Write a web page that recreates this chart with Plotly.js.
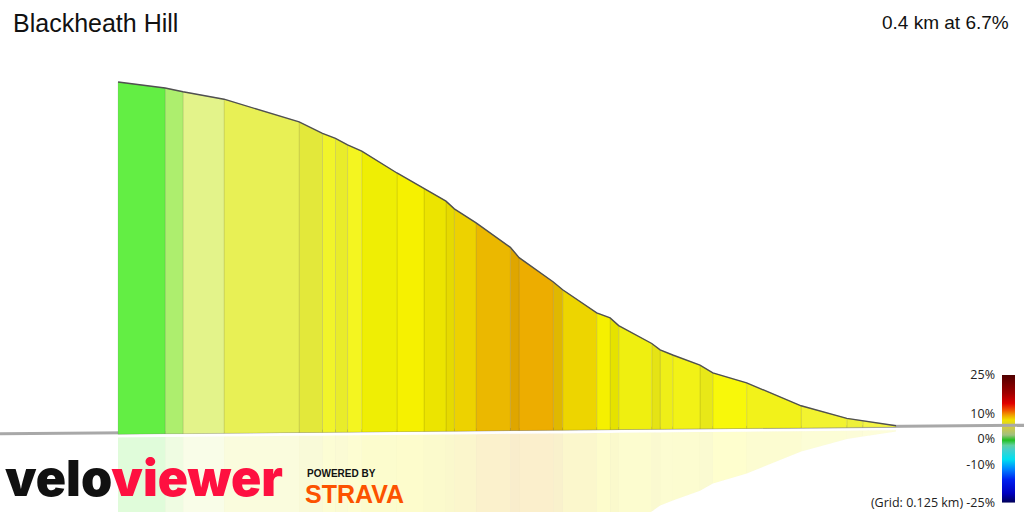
<!DOCTYPE html>
<html>
<head>
<meta charset="utf-8">
<script src="https://cdn.plot.ly/plotly-3.0.1.min.js"></script>
<style>html,body{margin:0;padding:0;background:#fff;}#chart{width:1024px;height:512px;}</style>
</head>
<body>
<div id="chart"></div>
<script>
// ---- data (distance from the bottom of the climb, km; elevation, m) ----
const distKm = [0, 0.0171, 0.0253, 0.0488, 0.0768, 0.0942, 0.1008, 0.1148, 0.1213, 0.1256, 0.1426, 0.1470, 0.1539, 0.1714, 0.1762, 0.1938, 0.1983, 0.2159, 0.2271, 0.2314, 0.2427, 0.2566, 0.2747, 0.2820, 0.2882, 0.2949, 0.3069, 0.3455, 0.3666, 0.3758, 0.4];
const elevM = [10.1, 10.5, 10.7, 11.7, 13.5, 14.3, 14.9, 15.7, 16.1, 16.6, 18.0, 18.6, 19.0, 20.8, 21.4, 23.3, 24.1, 26.0, 27.1, 27.7, 28.7, 29.9, 31.6, 32.1, 32.6, 33.0, 33.9, 35.7, 36.3, 36.6, 37.1];
const segColors = ['#F4F446', '#EEF03A', '#F2F330', '#F2F21A', '#F8F80A', '#E8E818', '#F2F216', '#EEEE18', '#E5E315', '#EFEF10', '#E5E200', '#F5F000', '#EDD500', '#E0B800', '#EDAD00', '#DFA600', '#EBB800', '#EDD200', '#E6DA00', '#ECE400', '#F6F100', '#EFEE04', '#F4F520', '#E9EC2A', '#F1F42A', '#E3E83A', '#E8F055', '#E3F38A', '#ADEE6E', '#63EE44'];
const titleText = 'Blackheath Hill';
const summaryText = '0.4 km at 6.7%';
const gradeTicks = [-25, -10, 0, 10, 25];
const gradeTickText = ['(Grid: 0.125 km) -25%', '-10%', '0%', '10%', '25%'];
const gradeScale = [
  [0, '#000058'], [0.074, '#0000c0'], [0.18, '#0020f0'], [0.26, '#0080ff'],
  [0.34, '#00e0f0'], [0.41, '#40d0d0'], [0.45, '#60d0a0'], [0.49, '#20c020'],
  [0.53, '#a0c080'], [0.58, '#c8c850'], [0.648, '#f0e000'], [0.686, '#f0a000'],
  [0.726, '#f05000'], [0.778, '#e00000'], [0.856, '#a00000'], [1, '#500000']
];

// ---- view settings ----
const baseElev = 10;          // ground level of the view
const tiltPerKm = 1.404;      // perspective tilt of the ground plane
const reflectK = 0.92;        // reflection depth factor
const xRange = [0.4607, -0.0658];
const yRange = [3.4615, 42.846];

function vTop(i) { return elevM[i] - tiltPerKm * distKm[i]; }
function vBase(d) { return baseElev - tiltPerKm * d; }

function hexToRgba(h, a) {
  const r = parseInt(h.slice(1, 3), 16), g = parseInt(h.slice(3, 5), 16), b = parseInt(h.slice(5, 7), 16);
  return 'rgba(' + r + ',' + g + ',' + b + ',' + a + ')';
}

const traces = [];
// colour key (subplot xy, drawn first)
traces.push({
  type: 'scatter', mode: 'lines', xaxis: 'x', yaxis: 'y',
  x: [0, 1, 1, 0, 0], y: [gradeTicks[0], gradeTicks[0], gradeTicks[4], gradeTicks[4], gradeTicks[0]],
  fill: 'toself', fillgradient: { type: 'vertical', colorscale: gradeScale },
  line: { width: 0 }, hoverinfo: 'skip'
});

// reflections
for (let i = 0; i < distKm.length - 1; i++) {
  const d0 = distKm[i], d1 = distKm[i + 1];
  traces.push({
    type: 'scatter', mode: 'lines', xaxis: 'x2', yaxis: 'y2',
    x: [d0, d1, d1, d0, d0],
    y: [vBase(d0) - 0.25, vBase(d1) - 0.25, vBase(d1) - 0.25 - reflectK * (elevM[i + 1] - baseElev), vBase(d0) - 0.25 - reflectK * (elevM[i] - baseElev), vBase(d0) - 0.25],
    fill: 'toself', fillcolor: hexToRgba(segColors[i], 0.2),
    line: { width: 0.6, color: 'rgba(0,0,0,0.02)' }, hoverinfo: 'skip'
  });
}
// ground line
traces.push({
  type: 'scatter', mode: 'lines', xaxis: 'x2', yaxis: 'y2',
  x: [xRange[0], xRange[1]], y: [vBase(xRange[0]) + 0.12, vBase(xRange[1]) + 0.05],
  line: { color: '#a8a8a8', width: 3 }, hoverinfo: 'skip'
});
// segment fills
for (let i = 0; i < distKm.length - 1; i++) {
  const d0 = distKm[i], d1 = distKm[i + 1];
  traces.push({
    type: 'scatter', mode: 'lines', xaxis: 'x2', yaxis: 'y2',
    x: [d0, d1, d1, d0, d0],
    y: [vBase(d0), vBase(d1), vTop(i + 1), vTop(i), vBase(d0)],
    fill: 'toself', fillcolor: segColors[i],
    line: { width: 1, color: 'rgba(0,0,0,0.09)' }, hoverinfo: 'skip'
  });
}
// profile outline
traces.push({
  type: 'scatter', mode: 'lines', xaxis: 'x2', yaxis: 'y2',
  x: distKm, y: distKm.map((d, i) => vTop(i)),
  line: { color: '#505050', width: 1.4 }, hoverinfo: 'skip'
});

const hidden = { visible: false, showgrid: false, zeroline: false, fixedrange: true };
const layout = {
  width: 1024, height: 512,
  margin: { l: 0, r: 0, t: 0, b: 0 },
  paper_bgcolor: '#ffffff', plot_bgcolor: 'rgba(0,0,0,0)',
  showlegend: false, hovermode: false,
  xaxis: Object.assign({}, hidden, { domain: [1002 / 1024, 1015 / 1024], range: [0, 1], anchor: 'y' }),
  yaxis: {
    domain: [9.3 / 512, 137 / 512], range: [gradeTicks[0], gradeTicks[4]], anchor: 'x',
    side: 'left', showgrid: false, zeroline: false, showline: false, ticks: '',
    tickvals: gradeTicks, ticktext: gradeTickText, ticklabelstandoff: 6,
    tickfont: { family: 'Open Sans, sans-serif', size: 12.5, color: '#222' }, fixedrange: true
  },
  xaxis2: Object.assign({}, hidden, { domain: [0, 1], range: xRange, anchor: 'y2' }),
  yaxis2: Object.assign({}, hidden, { domain: [0, 1], range: yRange, anchor: 'x2' }),
  annotations: [
    { xref: 'paper', yref: 'paper', x: 11 / 1024, y: 1 - 23 / 512, xanchor: 'left', yanchor: 'middle', showarrow: false,
      text: titleText, font: { family: 'Liberation Sans, Arial, sans-serif', size: 25, color: '#111' } },
    { xref: 'paper', yref: 'paper', x: 1011 / 1024, y: 1 - 22 / 512, xanchor: 'right', yanchor: 'middle', showarrow: false,
      text: summaryText, font: { family: 'Liberation Sans, Arial, sans-serif', size: 19, color: '#111' } },
    { xref: 'paper', yref: 'paper', x: 3 / 1024, y: 1 - 478 / 512, xanchor: 'left', yanchor: 'middle', showarrow: false,
      text: '<span style="color:#111">velo</span><span style="color:#fe1040">viewer</span>',
      font: { family: 'Inter, Roboto, sans-serif', size: 50, weight: 900, color: '#111' } },
    { xref: 'paper', yref: 'paper', x: 305 / 1024, y: 1 - 473 / 512, xanchor: 'left', yanchor: 'middle', showarrow: false,
      text: 'POWERED BY', font: { family: 'Liberation Sans, Arial, sans-serif', size: 10, weight: 700, color: '#111' } },
    { xref: 'paper', yref: 'paper', x: 303 / 1024, y: 1 - 494 / 512, xanchor: 'left', yanchor: 'middle', showarrow: false,
      text: 'STRAVA', font: { family: 'Liberation Sans, Arial, sans-serif', size: 25, weight: 900, color: '#fc5200' } }
  ]
};

Plotly.newPlot('chart', traces, layout, { staticPlot: true, displayModeBar: false });
</script>
</body>
</html>
